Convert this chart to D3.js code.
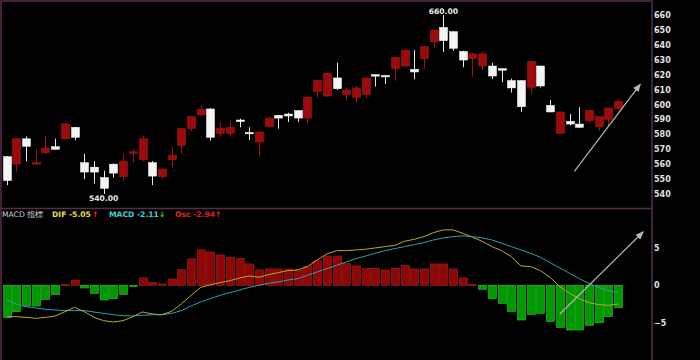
<!DOCTYPE html>
<html>
<head>
<meta charset="utf-8">
<script src="https://cdn.jsdelivr.net/npm/d3@7"></script>
<style>
    body { margin: 0; background: #000; }
    svg { display: block; }
    .axis text { fill: #e2e2e2; font-family: "DejaVu Sans", sans-serif; font-size: 8px; font-weight: bold; }
    .legend { font-family: "DejaVu Sans", sans-serif; font-size: 7.6px; font-weight: bold; }
</style>
</head>
<body>
<script>
// candle data
var open = [565, 560, 577, 560, 567.7, 571.7, 577, 584.7, 561, 558, 551, 560, 551.6, 567.5, 563, 561,
    551.6, 563, 572.6, 583.8, 593, 597, 580.7, 580.7, 589.6, 581.3, 574.8, 585.1, 592.7, 593.6, 595.9, 590.9,
    608.8, 605.7, 617.8, 606.6, 604.8, 606.6, 620, 619.5, 624, 625.8, 623.6, 630.7, 641.9, 651.7,
    648.8, 635.6, 630.7, 625.8, 625.8, 624, 616, 616, 611.5, 625.8, 599.4, 580.7, 588.7, 586.9, 589.2, 585.1, 590, 597.2];
var high = [565.5, 577.5, 578.5, 570, 579, 577, 587.5, 585, 567, 562, 555.6, 560.5, 567, 570, 579, 562,
    557, 572, 584, 592, 599.4, 597.5, 588.3, 589.6, 590.5, 584.7, 582, 591.8, 593, 594.5, 596, 605,
    616.5, 621, 628, 611, 612.4, 618, 620, 619.7, 632, 637, 636.5, 639, 650, 660,
    649, 636, 634.7, 635.6, 628, 624.2, 617.3, 616.3, 629, 626, 603, 595.2, 593.6, 598.1, 596.2, 592, 598, 603.9];
var low = [546, 555, 562, 559.5, 566.8, 569.9, 576.5, 576, 550, 547, 540, 551, 549, 561, 562, 546,
    549.8, 558, 567, 582, 592, 575.7, 578, 579.3, 584.7, 576.2, 565, 584.7, 583.8, 588.3, 588.3, 587.4,
    605, 605, 609.7, 603, 601.2, 604, 612, 613.7, 616, 625, 617, 624, 637.9, 635.2,
    636, 625, 618.7, 623.1, 617, 615, 608, 595, 607, 611.5, 594.8, 580.5, 586, 584.5, 587.8, 582.4, 585.6, 596.3];
var close = [549, 577, 572, 561, 570.8, 570, 587, 578, 554.7, 554.7, 543.8, 554, 562, 568.3, 577, 552,
    556.7, 566, 583.8, 591.8, 596.7, 578, 584, 584.7, 589.2, 580.9, 581.6, 590.9, 590.9, 592.3, 590.9, 604.8,
    616, 620.9, 610.6, 609.7, 611.1, 617.8, 619.2, 618.6, 631.6, 636.5, 621.8, 638.8, 649.9, 642.8,
    637.7, 629.8, 633.9, 633.9, 619.1, 623.6, 611.1, 598.5, 628.9, 612.4, 595, 595, 586.9, 584.7, 595.9, 591.8, 597.6, 602.1];

// MACD panel (Osc histogram, DIF and MACD lines as drawn)
var osc = [-4.25, -3.5, -2.74, -2.74, -1.86, -1.24, 0.13, 0.7, -0.35, -1.06, -1.95, -1.77, -1.2, -0.15, 0.97, 0.35,
    0.18, 0.84, 2.08, 3.5, 4.7, 4.42, 4.03, 3.72, 3.54, 2.83, 2.04, 2.17, 2.17, 2.17, 2.04, 2.48,
    3.23, 3.89, 3.89, 2.9, 2.57, 2.26, 2.26, 2.04, 2.26, 2.65, 2.17, 2.17, 2.83, 2.83,
    2.17, 0.97, 0.09, -0.53, -1.77, -2.39, -3.45, -4.6, -3.85, -3.72, -4.78, -5.58, -5.93, -5.93, -5.3, -4.96, -4.16, -2.94];
var dif = [-4.16, -4.16, -4.25, -4.38, -4.25, -4.07, -3.5, -2.92, -3.5, -4.25, -4.69, -4.87, -4.69, -4.16, -3.54, -3.8,
    -3.9, -3.45, -2.48, -1.33, -0.27, 0.09, 0.35, 0.62, 0.97, 1.24, 1.06, 1.42, 1.68, 1.95, 2.04, 2.48,
    3.36, 4.16, 4.6, 4.6, 4.69, 4.78, 4.96, 5.13, 5.3, 5.84, 6.1, 6.46, 7.0, 7.35,
    7.35, 6.9, 6.37, 5.84, 5.13, 4.6, 3.8, 2.57, 2.48, 1.95, 1.06, -0.18, -1.06, -1.77, -2.3, -2.57, -2.65, -2.48];
var macd = [-1.95, -2.48, -2.83, -3.0, -3.19, -3.27, -3.36, -3.36, -3.36, -3.54, -3.72, -3.9, -4.03, -4.07, -3.98, -3.9,
    -3.9, -3.72, -3.36, -2.74, -2.21, -1.77, -1.33, -0.97, -0.62, -0.27, 0, 0.27, 0.44, 0.71, 0.88, 1.33,
    1.77, 2.21, 2.65, 3.1, 3.54, 3.89, 4.25, 4.6, 4.87, 5.13, 5.4, 5.66, 6.02, 6.28,
    6.46, 6.55, 6.46, 6.28, 6.02, 5.58, 5.13, 4.69, 4.25, 3.72, 3.0, 2.3, 1.59, 0.88, 0.27, -0.27, -0.71, -0.97];

var priceTicks = [540, 550, 560, 570, 580, 590, 600, 610, 620, 630, 640, 650, 660];
var macdTicks = [-5, 0, 5];

// trend arrows, [bar index, value]
var priceArrow = [[58.5, 555.2], [65.3, 613.7]];
var macdArrow = [[57, -3.8], [65.6, 7.1]];

var width = 700,
    height = 360,
    plotRight = 652;

var svg = d3.select("body").append("svg")
    .attr("width", width)
    .attr("height", height)
    .style("background", "#000");

var n = close.length;
var x = d3.scaleLinear().domain([-0.5, n - 0.5]).range([1.8, 622.9]);
var y = d3.scaleLinear().domain([540, 660]).range([194, 15]);
var yM = d3.scaleLinear().domain([-5, 5]).range([323, 247.6]);

var idx = d3.range(n);
var bodyW = 8;
var px = function (i) { return Math.round(x(i)); };

// arrow head
svg.append("defs").append("marker")
    .attr("id", "head")
    .attr("viewBox", "0 0 10 10")
    .attr("refX", 9).attr("refY", 5)
    .attr("markerWidth", 7).attr("markerHeight", 7)
    .attr("orient", "auto")
    .append("path")
    .attr("d", "M0,1 L10,5 L0,9 z")
    .attr("fill", "#b8b8b8");

// frames
svg.append("rect")
    .attr("x", 1).attr("y", 1)
    .attr("width", plotRight - 1).attr("height", 207.5)
    .attr("fill", "none")
    .attr("stroke", "#5a2a4c")
    .attr("stroke-width", 1.5);
svg.append("line")
    .attr("x1", 1).attr("x2", 1).attr("y1", 208).attr("y2", height)
    .attr("stroke", "#5a2a4c").attr("stroke-width", 1.5);
svg.append("line")
    .attr("x1", plotRight).attr("x2", plotRight).attr("y1", 208).attr("y2", height)
    .attr("stroke", "#5a2a4c").attr("stroke-width", 1.5);

// candles
var candle = svg.append("g").selectAll("g")
    .data(idx)
    .enter()
    .append("g");

var col = function (i) { return close[i] >= open[i] ? "#9c0b0b" : "#f4f4f4"; };

candle.append("line")
    .attr("x1", function (i) { return px(i) + 0.5; })
    .attr("x2", function (i) { return px(i) + 0.5; })
    .attr("y1", function (i) { return y(high[i]); })
    .attr("y2", function (i) { return y(low[i]); })
    .attr("stroke", function (i) { return close[i] >= open[i] ? "#a81212" : "#e8e8e8"; })
    .attr("stroke-width", 1);

candle.append("rect")
    .attr("x", function (i) { return px(i) - bodyW / 2 + 0.5; })
    .attr("width", bodyW)
    .attr("y", function (i) { return y(Math.max(open[i], close[i])); })
    .attr("height", function (i) { return Math.max(1.5, Math.abs(y(open[i]) - y(close[i]))); })
    .attr("fill", col)
    .attr("stroke", function (i) { return close[i] >= open[i] ? "#b01818" : "#ffffff"; })
    .attr("stroke-width", 0.5);

// high / low labels
var hiI = d3.maxIndex(high), loI = d3.minIndex(low);
svg.append("text")
    .attr("class", "legend")
    .attr("x", x(hiI)).attr("y", y(high[hiI]) - 1)
    .attr("text-anchor", "middle")
    .attr("fill", "#eaeaea")
    .text(high[hiI].toFixed(2));
svg.append("text")
    .attr("class", "legend")
    .attr("x", x(loI)).attr("y", y(low[loI]) + 7)
    .attr("text-anchor", "middle")
    .attr("fill", "#eaeaea")
    .text(low[loI].toFixed(2));

// price axis
var ax = svg.append("g")
    .attr("class", "axis")
    .attr("transform", "translate(" + plotRight + ",0)")
    .call(d3.axisRight(y).tickValues(priceTicks).tickSize(0).tickPadding(2));
ax.select(".domain").remove();

// MACD histogram
svg.append("g").selectAll("rect")
    .data(idx)
    .enter()
    .append("rect")
    .attr("x", function (i) { return px(i) - bodyW / 2 + 0.5; })
    .attr("width", bodyW)
    .attr("y", function (i) { return yM(Math.max(0, osc[i])); })
    .attr("height", function (i) { return Math.max(1, Math.abs(yM(osc[i]) - yM(0))); })
    .attr("fill", function (i) { return osc[i] >= 0 ? "#8e0606" : "#009a00"; })
    .attr("stroke", function (i) { return osc[i] >= 0 ? "#a82020" : "#2fc82f"; })
    .attr("stroke-width", 0.6);

var difLine = d3.line()
    .x(function (i) { return x(i); })
    .y(function (i) { return yM(dif[i]); });
var macdLine = d3.line()
    .x(function (i) { return x(i); })
    .y(function (i) { return yM(macd[i]); });

svg.append("path")
    .datum(idx)
    .attr("d", macdLine)
    .attr("fill", "none")
    .attr("stroke", "#2aa2ac")
    .attr("stroke-width", 1);
svg.append("path")
    .datum(idx)
    .attr("d", difLine)
    .attr("fill", "none")
    .attr("stroke", "#b8ac26")
    .attr("stroke-width", 1);

var mx = svg.append("g")
    .attr("class", "axis")
    .attr("transform", "translate(" + plotRight + ",0)")
    .call(d3.axisRight(yM).tickValues(macdTicks).tickSize(0).tickPadding(2));
mx.select(".domain").remove();

// trend arrows
var arrowLine = function (pts, ys) {
    svg.append("line")
        .attr("x1", x(pts[0][0])).attr("y1", ys(pts[0][1]))
        .attr("x2", x(pts[1][0])).attr("y2", ys(pts[1][1]))
        .attr("stroke", "#b8b8b8")
        .attr("stroke-width", 1.2)
        .attr("marker-end", "url(#head)");
};
arrowLine(priceArrow, y);
arrowLine(macdArrow, yM);

// legend
var legendItems = [
    { t: "MACD 指標", x: 2, c: "#d4d4d4", w: "normal" },
    { t: "DIF -5.05", x: 52, c: "#e4e040", w: "bold" },
    { t: "↑", x: 92, c: "#ff2020", w: "bold" },
    { t: "MACD -2.11", x: 109, c: "#3ed4d4", w: "bold" },
    { t: "↓", x: 159, c: "#20e020", w: "bold" },
    { t: "Osc -2.94", x: 175, c: "#e02424", w: "bold" },
    { t: "↑", x: 215, c: "#ff2020", w: "bold" }
];
svg.selectAll(".lg")
    .data(legendItems)
    .enter()
    .append("text")
    .attr("class", "legend lg")
    .attr("x", function (d) { return d.x; })
    .attr("y", 217)
    .attr("fill", function (d) { return d.c; })
    .style("font-weight", function (d) { return d.w; })
    .text(function (d) { return d.t; });
</script>
</body>
</html>
